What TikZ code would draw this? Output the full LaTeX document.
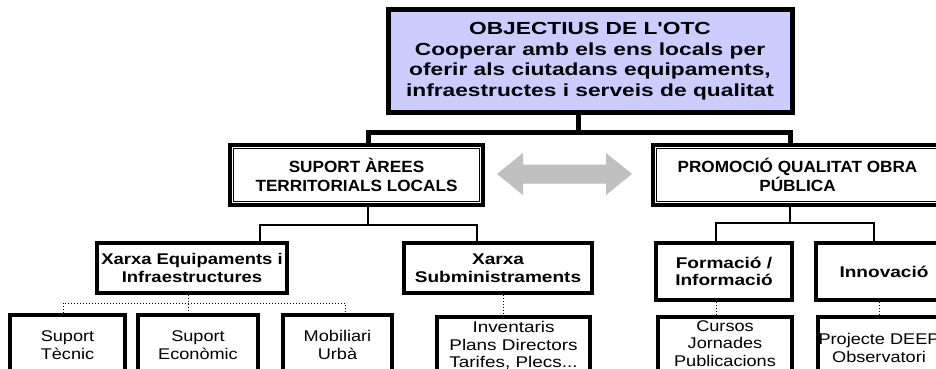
\documentclass[tikz,border=0pt]{standalone}
\usepackage{fontspec}
\setmainfont{Liberation Sans}
\newfontfamily\fTop[FakeStretch=1.3]{Liberation Sans}
\newfontfamily\fLtwo[FakeStretch=1.06]{Liberation Sans}
\newfontfamily\fLthree[FakeStretch=1.23]{Liberation Sans}
\newfontfamily\fLthreen[FakeStretch=1.19]{Liberation Sans}
\newfontfamily\fBot[FakeStretch=1.17]{Liberation Sans}
\newfontfamily\fBotw[FakeStretch=1.22]{Liberation Sans}
\usetikzlibrary{calc}
\definecolor{topfill}{HTML}{CCCCFF}
\definecolor{arrowgray}{HTML}{C0C0C0}
\begin{document}
\begin{tikzpicture}[x=1pt,y=-1pt,
  topbox/.style={draw, line width=5pt, fill=topfill, inner sep=0pt, align=center,
    font=\fTop\bfseries\fontsize{17.5}{20.5}\selectfont},
  lvltwo/.style={draw, line width=3.5pt, fill=white, inner sep=0pt, align=center,
    font=\fLtwo\bfseries\fontsize{16.2}{18.5}\selectfont},
  lvlthree/.style={draw, line width=4.5pt, fill=white, inner sep=0pt, align=center,
    font=\fLthree\bfseries\fontsize{15.5}{17.5}\selectfont},
  leafbox/.style={draw, line width=4pt, fill=white, inner sep=0pt, align=center,
    font=\fBot\fontsize{15.5}{17.8}\selectfont},
  leafthree/.style={leafbox, font=\fBotw\fontsize{15.5}{17.2}\selectfont},
  bigline/.style={line width=5pt, line join=miter},
  midline/.style={line width=2pt, line join=miter},
  dotline/.style={line width=1pt, dotted},
  innerframe/.style={line width=1.4pt}
]
\useasboundingbox (0,0) rectangle (936,369);
\fill[white] (0,0) rectangle (936,369);

% top box
\node[topbox, minimum width=404pt, minimum height=102pt] (top) at (590,61)
  {OBJECTIUS DE L'OTC\\Cooperar amb els ens locals per\\oferir als ciutadans equipaments,\\infraestructes i serveis de qualitat};

% level two
\node[lvltwo, minimum width=253pt, minimum height=60pt] (sa) at (356.5,175)
  {SUPORT ÀREES\\TERRITORIALS LOCALS};
\node[lvltwo, minimum width=289pt, minimum height=60pt] (pq) at (797.5,175)
  {PROMOCIÓ QUALITAT OBRA\\PÚBLICA};
\draw[innerframe] ($(sa.north west)+(5.5,5.5)$) rectangle ($(sa.south east)+(-5.5,-5.5)$);
\draw[innerframe] ($(pq.north west)+(5.5,5.5)$) rectangle ($(pq.south east)+(-5.5,-5.5)$);

% gray double arrow
\fill[arrowgray] (497,174) -- (523,153) -- (523,164.5) -- (606,164.5) -- (606,153)
  -- (632,174) -- (606,195) -- (606,183.5) -- (523,183.5) -- (523,195) -- cycle;

% level three
\node[lvlthree, font=\fLthreen\bfseries\fontsize{15.5}{17.5}\selectfont,
  minimum width=190pt, minimum height=50pt] (xe) at (192,268)
  {Xarxa Equipaments i\\Infraestructures};
\node[lvlthree, minimum width=188pt, minimum height=50pt] (xs) at (498,268)
  {Xarxa\\Subministraments};
\node[lvlthree, minimum width=136pt, minimum height=57pt] (fi) at (724,271.5)
  {Formació /\\Informació};
\node[lvlthree, minimum width=136pt, minimum height=57pt] (in) at (884,271.5)
  {Innovació};

% leaves
\node[leafbox, minimum width=115pt, minimum height=60pt] (st) at (67.5,345)
  {Suport\\Tècnic};
\node[leafbox, minimum width=120pt, minimum height=60pt] (se) at (198,345)
  {Suport\\Econòmic};
\node[leafbox, minimum width=109pt, minimum height=60pt] (mu) at (337.5,345)
  {Mobiliari\\Urbà};
\node[leafthree, minimum width=153pt, minimum height=57pt] (inv) at (513.5,345.5)
  {Inventaris\\Plans Directors\\Tarifes, Plecs...};
\node[leafbox, font=\fBot\fontsize{15.5}{17.2}\selectfont, minimum width=134pt,
  minimum height=57pt, text depth=4pt] (cu) at (725,345.5)
  {Cursos\\Jornades\\Publicacions};
\node[leafbox, minimum width=122pt, minimum height=63pt] (pd) at (879,348)
  {Projecte DEEP\\Observatori};

% connectors top level
\coordinate (s0) at (578,132);
\coordinate (bL) at (368,132);
\coordinate (bR) at (790,132);
\draw[bigline] (s0 |- top.south) -- (s0);
\draw[bigline] (bL |- sa.north) -- (bL) -- (bR) -- (bR |- pq.north);

% connectors level two
\coordinate (cL) at (368,225);
\coordinate (cL1) at (260,225);
\coordinate (cL2) at (477,225);
\draw[midline] (cL |- sa.south) -- (cL);
\draw[midline] (cL1 |- xe.north) -- (cL1) -- (cL2) -- (cL2 |- xs.north);
\coordinate (cR) at (790,223);
\coordinate (cR1) at (716,223);
\coordinate (cR2) at (874,223);
\draw[midline] (cR |- pq.south) -- (cR);
\draw[midline] (cR1 |- fi.north) -- (cR1) -- (cR2) -- (cR2 |- in.north);

% dotted connectors
\coordinate (d0) at (188,303);
\coordinate (d1) at (63,303);
\coordinate (d2) at (345,303);
\draw[dotline] (d0 |- xe.south) -- (d0 |- se.north);
\draw[dotline] (d1 |- st.north) -- (d1) -- (d2) -- (d2 |- mu.north);
\coordinate (d3) at (503,300);
\coordinate (d4) at (716,300);
\coordinate (d5) at (879,300);
\draw[dotline] (d3 |- xs.south) -- (d3 |- inv.north);
\draw[dotline] (d4 |- fi.south) -- (d4 |- cu.north);
\draw[dotline] (d5 |- in.south) -- (d5 |- pd.north);
\end{tikzpicture}
\end{document}
